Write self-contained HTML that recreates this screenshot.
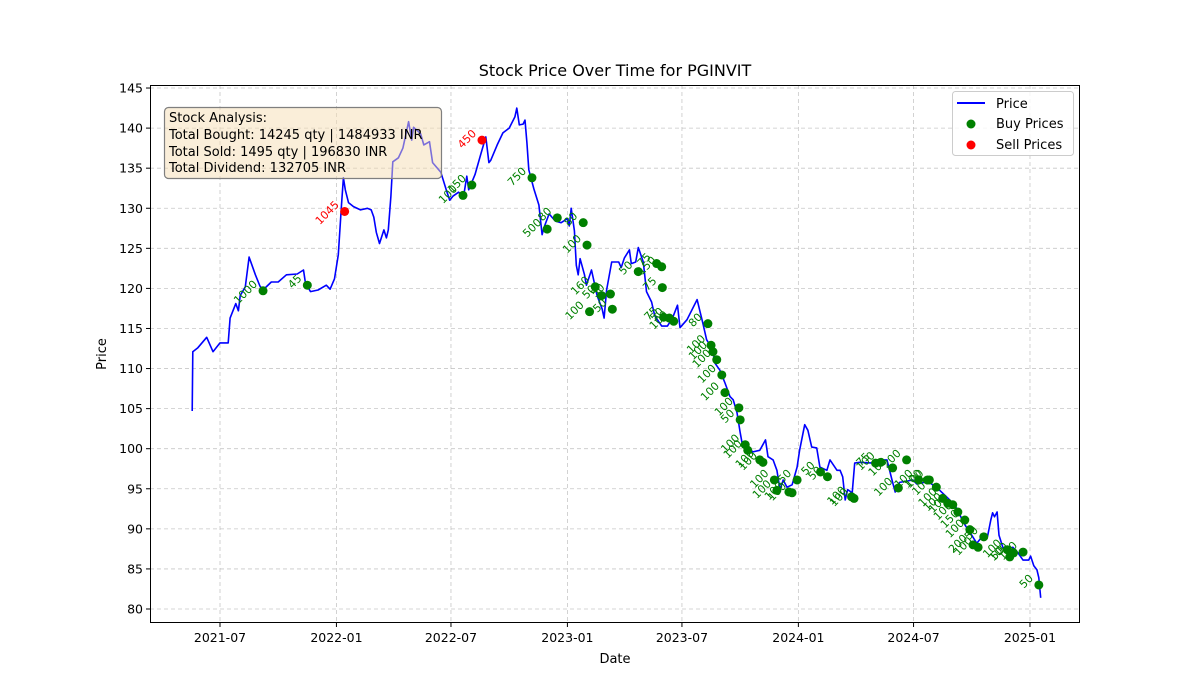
<!DOCTYPE html>
<html><head><meta charset="utf-8"><style>
body{margin:0;background:#fff;}
svg{display:block;font-family:"DejaVu Sans","Liberation Sans",sans-serif;}
</style></head><body>
<svg id="chart" width="1200" height="700" viewBox="0 0 1200 700">
<rect width="1200" height="700" fill="#fff"/>
<g id="grid"></g>
<g id="series"></g>
<g id="axes"></g>
<text x="615" y="76" text-anchor="middle" font-size="16">Stock Price Over Time for PGINVIT</text>
<text x="615" y="663" text-anchor="middle" font-size="13">Date</text>
<text x="106" y="354" text-anchor="middle" font-size="13" transform="rotate(-90 106 354)">Price</text>
<g>
<rect x="164.5" y="107.5" width="277" height="71" rx="4" fill="rgba(245,222,179,0.5)" stroke="#7f7f7f" stroke-width="1.2"/>
<text x="169" y="122" font-size="13">Stock Analysis:</text>
<text x="169" y="139" font-size="13">Total Bought: 14245 qty | 1484933 INR</text>
<text x="169" y="156" font-size="13">Total Sold: 1495 qty | 196830 INR</text>
<text x="169" y="172" font-size="13">Total Dividend: 132705 INR</text>
</g>
<g>
<rect x="952.5" y="91.5" width="121" height="64" rx="3" fill="#fff" fill-opacity="0.8" stroke="#ccc"/>
<line x1="957" y1="103" x2="985" y2="103" stroke="#0000ff" stroke-width="2"/>
<text x="996" y="108" font-size="13">Price</text>
<circle cx="971" cy="124" r="4.5" fill="#008000"/>
<text x="996" y="128" font-size="13">Buy Prices</text>
<circle cx="971" cy="145" r="4.5" fill="#ff0000"/>
<text x="996" y="149" font-size="13">Sell Prices</text>
</g>
</svg>
<script>
// days since 2021-07-01
const priceDays=[-44,-43,-35,-21,-11,0,13,16,25,29,32,40,46,56,63,68,81,92,105,122,132,135,143,155,168,174,181,187,192,195,198,203,211,222,233,239,243,247,252,259,263,266,270,273,282,289,298,303,306,317,322,331,336,349,358,363,368,377,385,390,393,403,412,420,425,428,438,447,457,466,469,473,479,482,485,488,496,504,509,512,520,530,539,549,552,555,560,563,566,569,576,579,587,596,604,607,611,619,630,634,639,647,650,657,661,669,674,682,687,698,707,715,723,727,738,754,763,769,779,782,790,798,806,811,817,822,825,833,842,853,862,866,874,880,885,890,896,904,912,916,924,929,935,943,948,959,964,975,980,984,988,992,999,1003,1011,1032,1043,1054,1062,1067,1074,1095,1101,1113,1123,1136,1148,1161,1170,1178,1188,1196,1204,1213,1218,1221,1224,1228,1231,1237,1243,1253,1261,1269,1278,1281,1286,1291,1294,1297];
const priceValues=[104.7,112.1,112.6,113.9,112.1,113.2,113.2,116.3,118.1,117.2,119.1,120.2,123.9,121.7,120.3,119.8,120.8,120.8,121.7,121.8,122.3,120.7,119.6,119.8,120.4,119.9,121.2,124.2,130.4,133.8,132.3,130.7,130.2,129.8,130.0,129.8,128.9,127.0,125.6,127.3,126.3,127.3,131.5,135.8,136.3,137.5,140.8,138.5,140.1,139.3,137.9,138.3,135.7,134.5,132.2,131.0,131.5,132.0,131.5,134.0,132.3,134.2,136.7,138.9,135.7,136.0,137.9,139.4,140.0,141.4,142.5,140.4,140.5,141.0,138.2,134.8,132.4,130.4,126.7,127.6,129.3,128.4,128.2,128.7,127.8,130.0,127.2,122.9,121.7,123.7,121.7,120.4,122.3,119.1,117.4,116.3,119.8,123.3,123.3,122.6,123.8,124.8,123.1,123.3,125.1,123.3,119.6,118.3,116.6,115.3,115.3,116.3,117.9,115.1,116.1,118.6,115.7,113.6,112.3,110.7,109.8,108.2,106.5,106.1,104.5,102.0,100.7,100.2,99.6,99.8,101.1,99.0,98.6,97.3,94.9,96.1,95.2,95.5,97.7,99.8,103.0,102.3,100.2,100.1,97.7,97.3,98.6,97.3,97.3,96.5,93.6,94.9,94.5,98.2,98.3,98.2,98.6,98.6,96.1,94.6,95.8,96.1,95.6,95.8,95.7,94.9,94.0,93.0,91.6,90.4,89.2,88.2,89.0,89.1,91.1,92.0,91.5,92.1,89.2,87.7,87.4,87.7,87.0,86.1,86.1,86.6,85.4,84.9,83.9,81.4];
const buyDays=[68,138,384,398,493,517,533,574,584,580,593,603,617,620,661,690,698,699,701,710,717,771,776,779,785,793,798,820,822,830,834,853,858,876,880,899,904,912,949,960,998,1002,1036,1044,1063,1072,1085,1104,1118,1121,1132,1142,1150,1158,1166,1177,1185,1190,1198,1207,1244,1248,1254,1269,1294];
const buyPrices=[119.7,120.4,131.6,132.9,133.8,127.4,128.8,128.2,117.1,125.4,120.2,119.1,119.3,117.4,122.1,123.1,122.7,120.1,116.4,116.3,115.9,115.6,112.9,112.1,111.1,109.2,107.0,105.1,103.6,100.5,99.8,98.6,98.3,96.1,94.8,94.6,94.5,96.1,97.1,96.5,94.0,93.8,98.2,98.3,97.6,95.1,98.6,96.1,96.1,96.1,95.2,93.8,93.2,93.0,92.1,91.1,89.9,88.0,87.7,89.0,87.4,86.5,87.0,87.1,83.0];
const buyQty=["1000","45","100","150","750","500","80","80","100","100","160","50","50","50","50","75","150","75","75","50","100","80","100","100","100","100","100","100","50","100","100","100","100","100","100","100","100","50","50","50","100","100","75","100","100","100","200","100","100","100","100","100","100","100","100","150","100","200","100","50","100","50","100","150","50"];
const sellDays=[197,414];
const sellPrices=[129.6,138.5];
const sellQty=["1045","450"];
const yTicks=[80,85,90,95,100,105,110,115,120,125,130,135,140,145];
const xTickDays=[0,184,365,549,730,914,1096,1280];
const xTickLabels=["2021-07","2022-01","2022-07","2023-01","2023-07","2024-01","2024-07","2025-01"];

const NS="http://www.w3.org/2000/svg";
const L=150,R=1080,T=85,B=623;
const xS=d=>220+d*0.6328;
const yS=v=>609-(v-80)*8.015;
function mk(tag,attrs,parent){const e=document.createElementNS(NS,tag);for(const k in attrs)e.setAttribute(k,attrs[k]);parent.appendChild(e);return e;}
const grid=document.getElementById('grid'),ser=document.getElementById('series'),ax=document.getElementById('axes');
yTicks.forEach(v=>{
  const y=yS(v);
  const g=mk('line',{x1:L,x2:R,y1:y,y2:y,stroke:'#b0b0b0','stroke-width':0.8,'stroke-dasharray':'4,3',opacity:0.7},grid);
  
  
  mk('line',{x1:L-4,x2:L,y1:y,y2:y,stroke:'#000'},ax);
  const t=mk('text',{x:L-7,y:y+4.5,'text-anchor':'end','font-size':12.5},ax);
  t.textContent=v;
  
  
});
xTickDays.forEach((d,i)=>{
  const x=xS(d);
  const g=mk('line',{x1:x,x2:x,y1:T,y2:B,stroke:'#b0b0b0','stroke-width':0.8,'stroke-dasharray':'4,3',opacity:0.7},grid);
  
  
  mk('line',{x1:x,x2:x,y1:B,y2:B+4,stroke:'#000'},ax);
  const t=mk('text',{x:x,y:B+19,'text-anchor':'middle','font-size':12.5},ax);
  t.textContent=xTickLabels[i];
  
  
});
const frame=mk('rect',{x:L+0.5,y:T+0.5,width:R-L-1,height:B-T-1,fill:'none',stroke:'#000','stroke-width':1},ax);


const pts=priceDays.map((d,i)=>xS(d).toFixed(1)+','+yS(priceValues[i]).toFixed(1)).join(' ');
const line=mk('polyline',{points:pts,fill:'none',stroke:'#0000ff','stroke-width':1.6,'stroke-linejoin':'round'},ser);


function marker(d,v,q,color,name){
  const x=xS(d),y=yS(v);
  const c=mk('circle',{cx:x,cy:y,r:4.5,fill:color},ser);
  
  
  const tx=x-5,ty=y-6;
  const t=mk('text',{x:tx,y:ty,'text-anchor':'end','font-size':11,fill:color,transform:'rotate(-45 '+tx+' '+ty+')'},ser);
  t.textContent=q;
  
  
}
buyDays.forEach((d,i)=>marker(d,buyPrices[i],buyQty[i],'#008000','buy'));
sellDays.forEach((d,i)=>marker(d,sellPrices[i],sellQty[i],'#ff0000','sell'));
</script>
</body></html>
